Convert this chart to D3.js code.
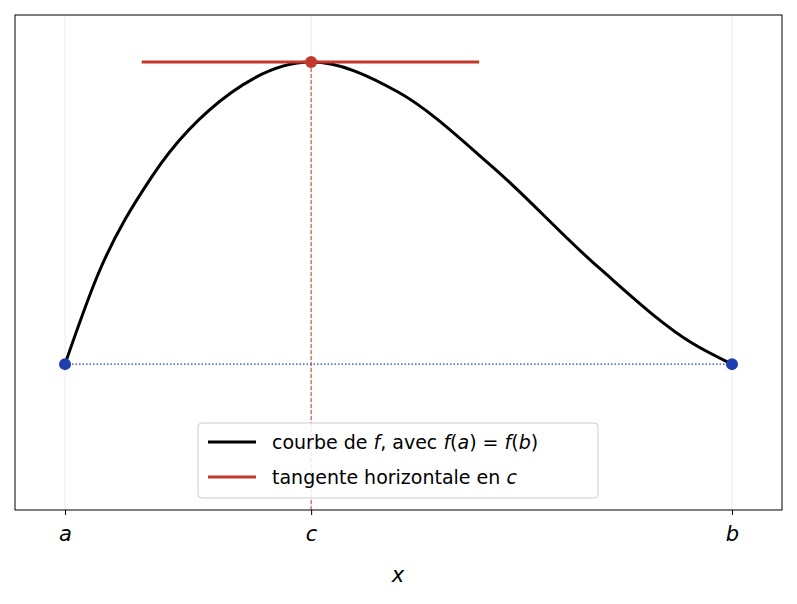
<!DOCTYPE html>
<html><head><meta charset="utf-8">
<script src="https://cdn.jsdelivr.net/npm/d3@7"></script>
<style>body{margin:0;background:#fff}text{font-family:"DejaVu Sans",sans-serif}</style>
</head><body><svg id="c" width="797" height="604"></svg>
<script>
const tickLabels = ["a","c","b"];
const tickValues = [0, 0.369, 1];
const curveX = [0, 0.05, 0.13, 0.25, 0.369, 0.5, 0.64, 0.8, 0.94, 1];
const curveY = [0, 0.3, 0.62, 0.9, 1, 0.9, 0.655, 0.32, 0.07, 0];
const tangentX = [0.115, 0.621];
const labelsLegend = ["courbe de f, avec f(a) = f(b)", "tangente horizontale en c"];

const svg = d3.select("#c");
const L=15,R=782,T=15,B=510;
const x = d3.scaleLinear().domain([-0.075,1.075]).range([L,R]);
const y = d3.scaleLinear().domain([-0.483,1.156]).range([B,T]);
const red="#c0392b", blue="#1f3fb0";

svg.append("g").selectAll("line").data(tickValues).join("line")
 .attr("x1",d=>x(d)).attr("x2",d=>x(d)).attr("y1",T).attr("y2",B)
 .attr("stroke","#e6e6e6").attr("stroke-width",0.8);

svg.append("line").attr("x1",x(0)).attr("x2",x(1)).attr("y1",y(0)).attr("y2",y(0))
 .attr("stroke",blue).attr("stroke-width",1.2).attr("stroke-dasharray","1.5,2");
svg.append("line").attr("x1",x(0.369)).attr("x2",x(0.369)).attr("y1",y(1)).attr("y2",B)
 .attr("stroke",red).attr("stroke-width",1).attr("stroke-dasharray","4,2");

const pts = curveX.map((v,i)=>[v,curveY[i]]);
svg.append("path").datum(pts).attr("fill","none").attr("stroke","#000").attr("stroke-width",3)
 .attr("d",d3.line().x(d=>x(d[0])).y(d=>y(d[1])).curve(d3.curveMonotoneX));
svg.append("line").attr("x1",x(tangentX[0])).attr("x2",x(tangentX[1])).attr("y1",y(1)).attr("y2",y(1))
 .attr("stroke",red).attr("stroke-width",3);
svg.append("circle").attr("cx",x(0.369)).attr("cy",y(1)).attr("r",6).attr("fill",red);
[0,1].forEach(v=>svg.append("circle").attr("cx",x(v)).attr("cy",y(0)).attr("r",6).attr("fill",blue));

svg.append("rect").attr("x",L).attr("y",T).attr("width",R-L).attr("height",B-T)
 .attr("fill","none").attr("stroke","#000").attr("stroke-width",1);
const ax = d3.axisBottom(x).tickValues(tickValues).tickFormat((d,i)=>tickLabels[i]).tickSize(5);
const g = svg.append("g").attr("transform",`translate(0,${B})`).call(ax);
g.select(".domain").remove();
g.selectAll("text").style("font-size","21px").style("font-style","italic").attr("y",16).attr("dy","0.71em").attr("fill","#000");
svg.append("text").attr("x",398).attr("y",582).attr("text-anchor","middle")
 .style("font-size","21px").style("font-style","italic").text("x");

const lg = svg.append("g");
lg.append("rect").attr("x",198).attr("y",423).attr("width",400).attr("height",75).attr("rx",4)
 .attr("fill","#fff").attr("fill-opacity",0.85).attr("stroke","#ccc");
const lc=["#000",red];
labelsLegend.forEach((t,i)=>{
 const yy=442+i*35;
 lg.append("line").attr("x1",208).attr("x2",256).attr("y1",yy).attr("y2",yy).attr("stroke",lc[i]).attr("stroke-width",3);
 const tx=lg.append("text").attr("x",272).attr("y",yy+7).style("font-size","19px");
 if(i===0){
  tx.append("tspan").text("courbe de ");
  tx.append("tspan").attr("font-style","italic").text("f");
  tx.append("tspan").text(", avec ");
  tx.append("tspan").attr("font-style","italic").text("f");
  tx.append("tspan").text("(");
  tx.append("tspan").attr("font-style","italic").text("a");
  tx.append("tspan").text(") = ");
  tx.append("tspan").attr("font-style","italic").text("f");
  tx.append("tspan").text("(");
  tx.append("tspan").attr("font-style","italic").text("b");
  tx.append("tspan").text(")");
 } else {
  tx.append("tspan").text("tangente horizontale en ");
  tx.append("tspan").attr("font-style","italic").text("c");
 }
});
</script></body></html>
